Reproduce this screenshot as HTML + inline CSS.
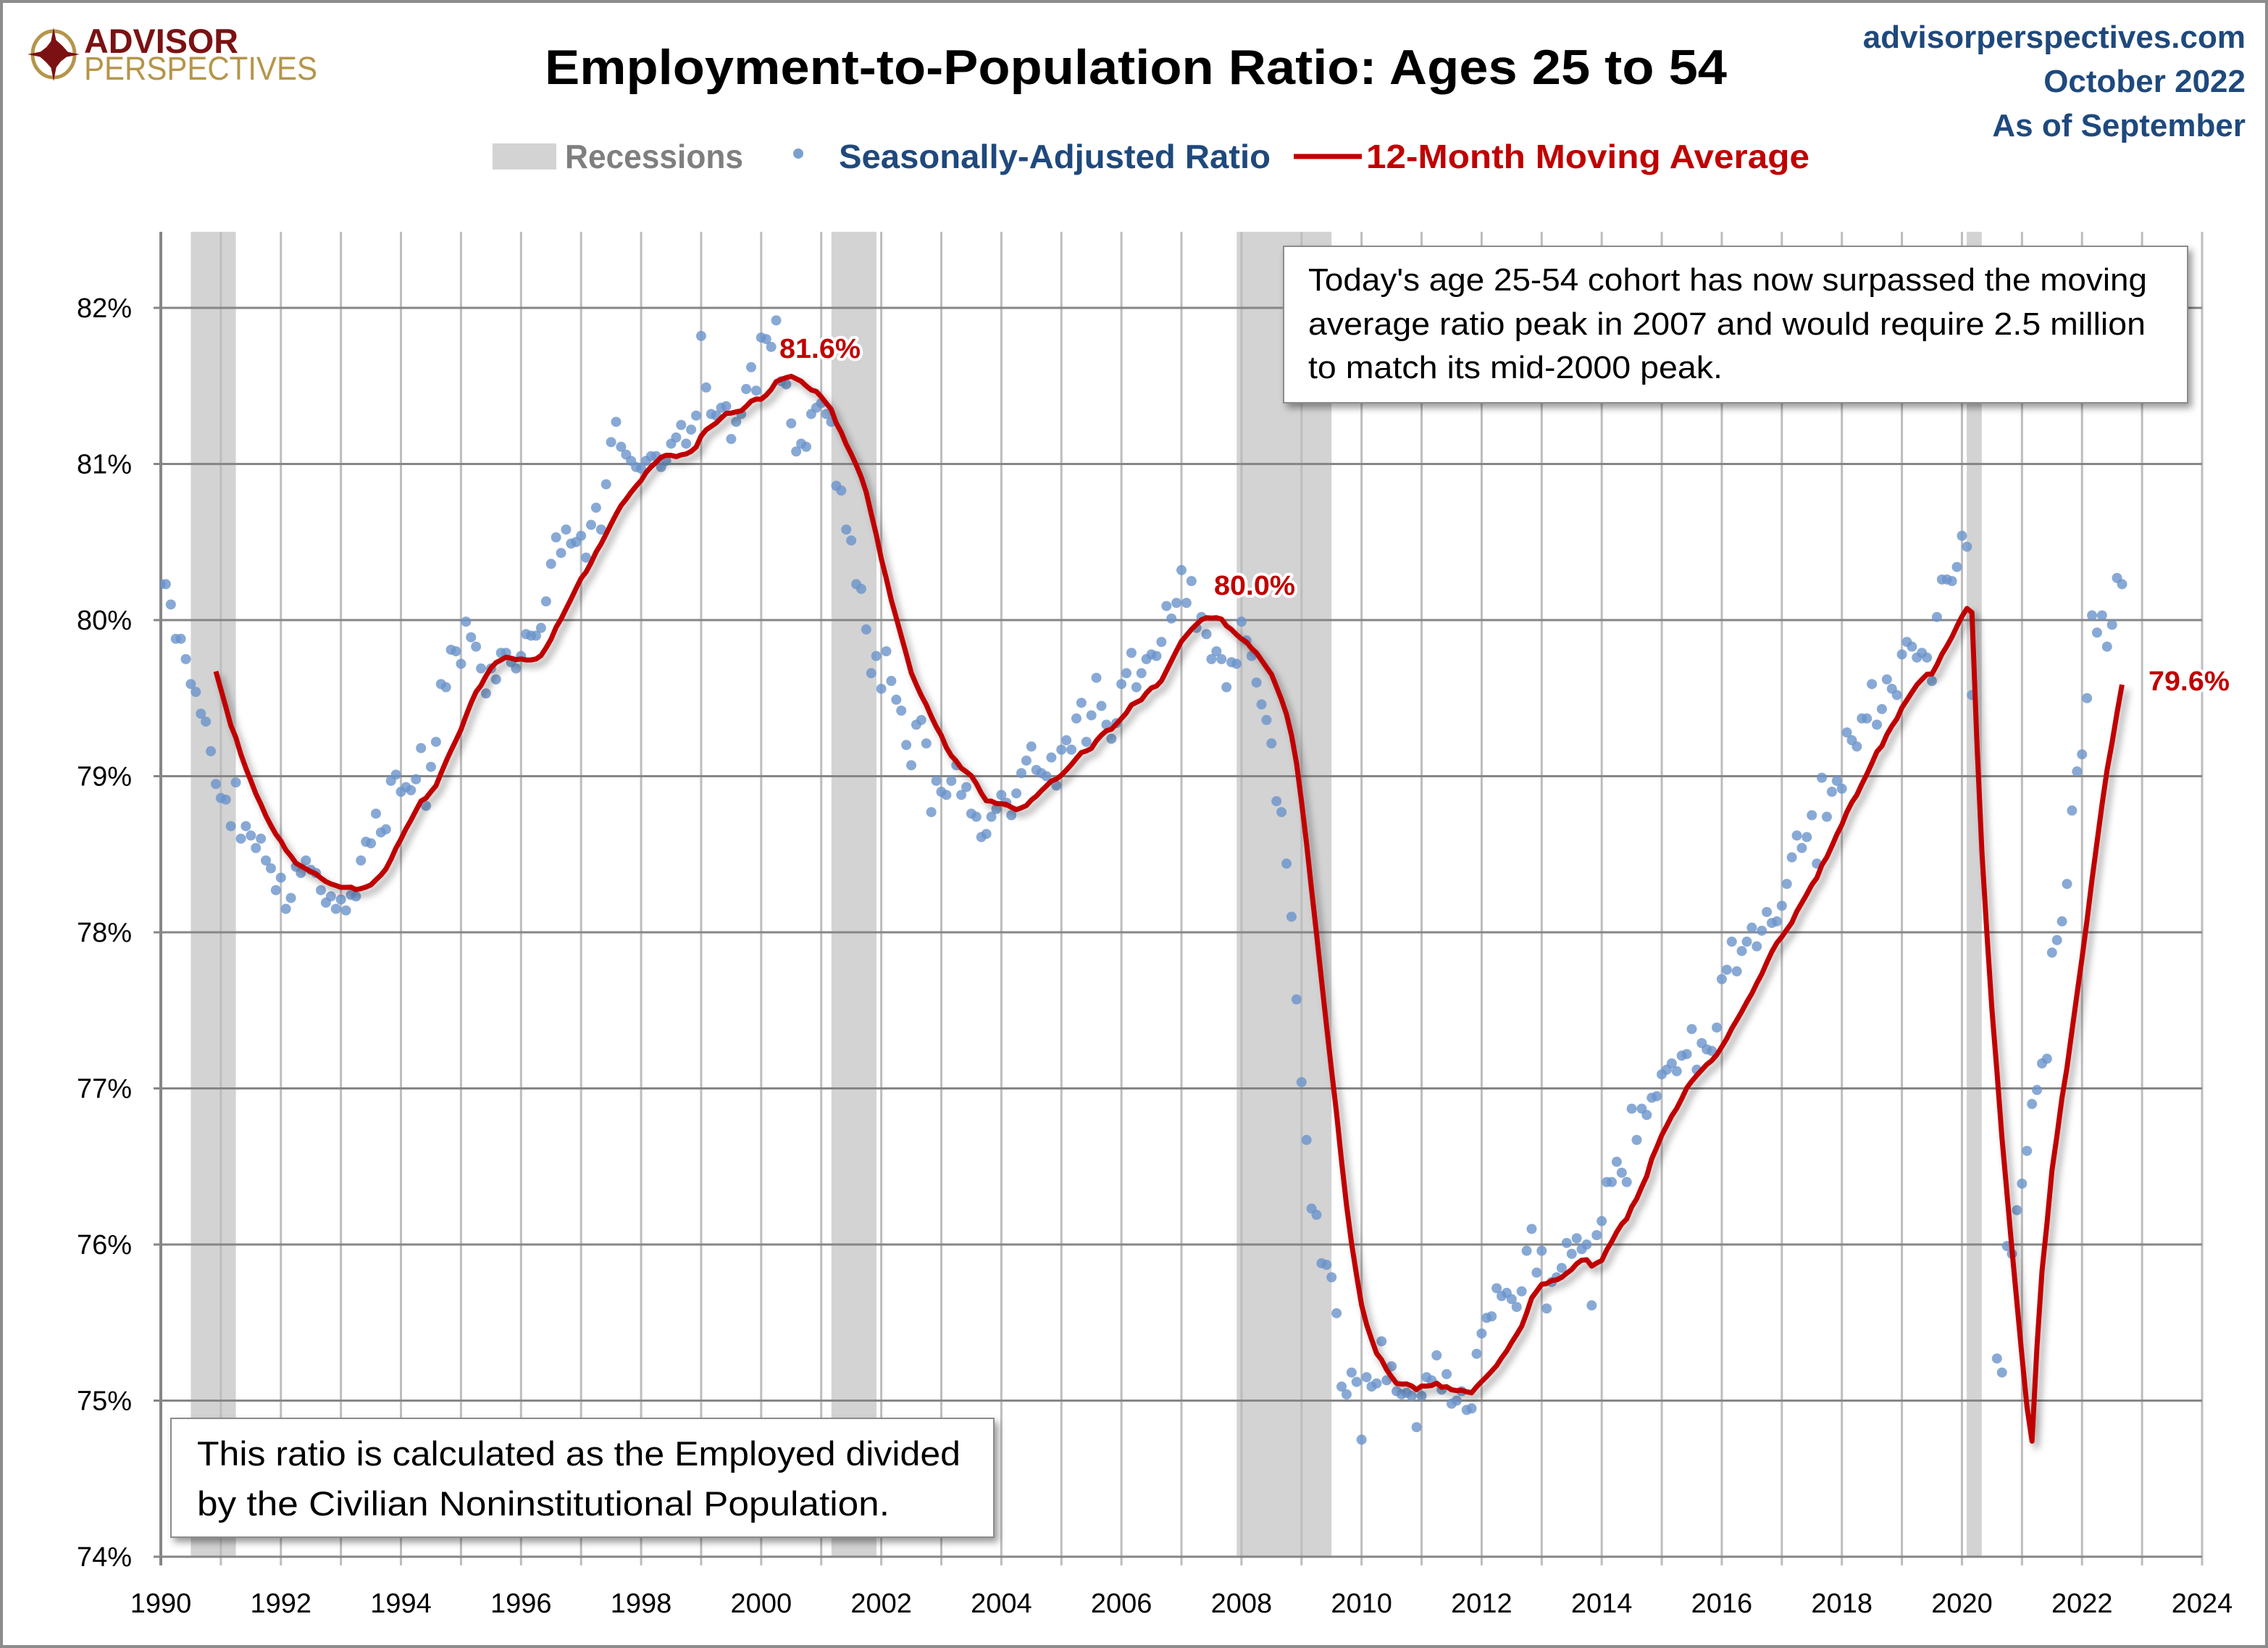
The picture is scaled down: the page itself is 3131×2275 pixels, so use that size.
<!DOCTYPE html>
<html><head><meta charset="utf-8"><title>Employment-to-Population Ratio: Ages 25 to 54</title>
<style>html,body{margin:0;padding:0;background:#fff}svg{display:block}text{font-family:"Liberation Sans",sans-serif}</style>
</head><body>
<svg id="chart" xmlns="http://www.w3.org/2000/svg" width="3131" height="2275" viewBox="0 0 3131 2275">
<defs>
<filter id="sh" x="-10%" y="-10%" width="130%" height="130%"><feDropShadow dx="6" dy="7" stdDeviation="5" flood-color="#000" flood-opacity="0.35"/></filter>
<filter id="bsh" x="-5%" y="-5%" width="110%" height="120%"><feDropShadow dx="5" dy="6" stdDeviation="5" flood-color="#000" flood-opacity="0.4"/></filter>
<clipPath id="plotclip"><rect x="222" y="320" width="2818" height="1829"/></clipPath>
</defs>
<rect x="0" y="0" width="3131" height="2275" fill="#fff"/>
<rect x="2" y="2" width="3127" height="2271" fill="none" stroke="#8c8c8c" stroke-width="4"/>

<g>
  <ellipse cx="74" cy="75" rx="29" ry="32" fill="none" stroke="#b5954a" stroke-width="5"/>
  <polygon points="74,38 80,69 110,75 80,81 74,112 68,81 38,75 68,69" fill="#7b1113"/>
  <polygon points="74,58 90,59 88,75 90,91 74,90 58,91 60,75 58,59" fill="#7b1113" transform="rotate(45 74 75)"/>
  <text x="116" y="73" font-size="47" font-weight="bold" fill="#7b1113" textLength="213" lengthAdjust="spacingAndGlyphs">ADVISOR</text>
  <text x="116" y="110" font-size="45" fill="#b5954a" textLength="322" lengthAdjust="spacingAndGlyphs">PERSPECTIVES</text>
</g>

<text x="752" y="116" font-size="68" font-weight="bold" fill="#000" textLength="1632" lengthAdjust="spacingAndGlyphs">Employment-to-Population Ratio: Ages 25 to 54</text>

<g font-weight="bold" fill="#1f497d" font-size="44" text-anchor="end">
  <text x="3100" y="66">advisorperspectives.com</text>
  <text x="3100" y="127">October 2022</text>
  <text x="3100" y="188">As of September</text>
</g>

<g font-weight="bold" font-size="46">
  <g><rect x="680" y="198" width="88" height="36" fill="#d3d3d3"/>
  <text x="780" y="232" fill="#7f7f7f" textLength="246" lengthAdjust="spacingAndGlyphs">Recessions</text></g>
  <g><circle cx="1102" cy="212" r="7" fill="#7aa0d0"/>
  <text x="1158" y="232" fill="#1f497d" textLength="596" lengthAdjust="spacingAndGlyphs">Seasonally-Adjusted Ratio</text></g>
  <g><line x1="1786" y1="216" x2="1880" y2="216" stroke="#c00000" stroke-width="7"/>
  <text x="1886" y="232" fill="#c00000" textLength="612" lengthAdjust="spacingAndGlyphs">12-Month Moving Average</text></g>
</g>

<g id="recessions"></g>
<g id="grid"></g>
<g id="yticks" font-size="38" fill="#000" text-anchor="end"></g>
<g id="xticks" font-size="38" fill="#000" text-anchor="middle"></g>
<g id="dots" clip-path="url(#plotclip)"></g>
<g clip-path="url(#plotclip)"><path id="ma" fill="none" stroke="#c00000" stroke-width="7" stroke-linejoin="round" filter="url(#sh)"/></g>

<g font-size="38" font-weight="bold" fill="#c00000" stroke="#fff" stroke-width="8" paint-order="stroke" stroke-linejoin="round">
  <text x="1076" y="494" textLength="112" lengthAdjust="spacingAndGlyphs">81.6%</text>
  <text x="1676" y="821" textLength="112" lengthAdjust="spacingAndGlyphs">80.0%</text>
  <text x="2966" y="953" textLength="112" lengthAdjust="spacingAndGlyphs">79.6%</text>
</g>

<g>
  <rect x="1772" y="340" width="1248" height="216" fill="#fff" stroke="#8c8c8c" stroke-width="2" filter="url(#bsh)"/>
  <g font-size="44" fill="#000">
    <text x="1806" y="401" textLength="1158" lengthAdjust="spacingAndGlyphs">Today's age 25-54 cohort has now surpassed the moving</text>
    <text x="1806" y="462" textLength="1156" lengthAdjust="spacingAndGlyphs">average ratio peak in 2007 and would require 2.5 million</text>
    <text x="1806" y="522" textLength="572" lengthAdjust="spacingAndGlyphs">to match its mid-2000 peak.</text>
  </g>
</g>
<g>
  <rect x="236" y="1958" width="1136" height="164" fill="#fff" stroke="#8c8c8c" stroke-width="2" filter="url(#bsh)"/>
  <g font-size="47" fill="#000">
    <text x="272" y="2023" textLength="1054" lengthAdjust="spacingAndGlyphs">This ratio is calculated as the Employed divided</text>
    <text x="272" y="2092" textLength="956" lengthAdjust="spacingAndGlyphs">by the Civilian Noninstitutional Population.</text>
  </g>
</g>

<script>
const startYear = 1990;
const yTickValues = [74,75,76,77,78,79,80,81,82];
const xTickYears = [1990,1992,1994,1996,1998,2000,2002,2004,2006,2008,2010,2012,2014,2016,2018,2020,2022,2024];
const recessionStarts = [1990.5, 2001.17, 2007.92, 2020.08];
const recessionEnds = [1991.25, 2001.92, 2009.5, 2020.33];
const ratio1990s = [
80.23,80.23,80.10,79.88,79.88,79.75,79.59,79.54,79.40,79.35,79.16,78.95,
78.86,78.85,78.68,78.96,78.60,78.68,78.62,78.54,78.60,78.46,78.41,78.27,
78.35,78.15,78.22,78.42,78.38,78.46,78.40,78.38,78.27,78.19,78.23,78.15,
78.21,78.14,78.24,78.23,78.46,78.58,78.57,78.76,78.64,78.66,78.97,79.01,
78.90,78.93,78.91,78.98,79.18,78.81,79.06,79.22,79.59,79.57,79.81,79.80,
79.72,79.99,79.89,79.83,79.69,79.53,79.69,79.62,79.79,79.79,79.73,79.69,
79.77,79.91,79.90,79.90,79.95,80.12,80.36,80.53,80.43,80.58,80.49,80.50,
80.54,80.40,80.61,80.72,80.58,80.87,81.14,81.27,81.11,81.06,81.02,80.98,
80.97,81.02,81.05,81.05,80.98,81.02,81.13,81.17,81.25,81.13,81.22,81.31,
81.82,81.49,81.32,81.31,81.36,81.37,81.16,81.27,81.32,81.48,81.62,81.47];
const ratio2000s = [
81.81,81.80,81.75,81.92,81.53,81.51,81.26,81.08,81.13,81.11,81.32,81.36,
81.39,81.32,81.27,80.86,80.83,80.58,80.51,80.23,80.20,79.94,79.66,79.77,
79.56,79.80,79.61,79.49,79.42,79.20,79.07,79.33,79.36,79.21,78.77,78.97,
78.90,78.88,78.97,79.07,78.88,78.93,78.76,78.74,78.61,78.63,78.74,78.79,
78.88,78.83,78.75,78.89,79.02,79.10,79.19,79.04,79.02,79.00,79.12,78.94,
79.17,79.23,79.17,79.37,79.47,79.22,79.39,79.63,79.45,79.33,79.24,79.34,
79.59,79.66,79.79,79.57,79.66,79.75,79.78,79.77,79.86,80.09,80.01,80.11,
80.32,80.11,80.25,79.95,80.02,79.91,79.75,79.80,79.75,79.57,79.73,79.72,
79.99,79.87,79.77,79.60,79.46,79.36,79.21,78.84,78.77,78.44,78.10,77.57,
77.04,76.67,76.23,76.19,75.88,75.87,75.79,75.56,75.09,75.04,75.18,75.12];
const ratio2010s = [
74.75,75.15,75.09,75.11,75.38,75.13,75.22,75.06,75.04,75.05,75.03,74.83,
75.03,75.15,75.13,75.29,75.07,75.17,74.98,75.00,75.06,74.94,74.95,75.30,
75.43,75.53,75.54,75.72,75.67,75.69,75.65,75.60,75.70,75.96,76.10,75.82,
75.96,75.59,75.76,75.79,75.85,76.01,75.94,76.04,75.97,76.00,75.61,76.06,
76.15,76.40,76.40,76.53,76.46,76.40,76.87,76.67,76.87,76.83,76.94,76.95,
77.09,77.12,77.16,77.11,77.21,77.22,77.38,77.12,77.29,77.25,77.24,77.39,
77.70,77.76,77.94,77.75,77.88,77.94,78.03,77.91,78.01,78.13,78.06,78.07,
78.17,78.31,78.48,78.62,78.54,78.61,78.75,78.44,78.99,78.74,78.90,78.97,
78.92,79.28,79.23,79.19,79.37,79.37,79.59,79.33,79.43,79.62,79.56,79.52,
79.78,79.86,79.83,79.76,79.79,79.76,79.61,80.02,80.26,80.26,80.25,80.34];
const ratio2020s = [
80.54,80.47,79.52,69.7,71.4,73.5,73.8,75.27,75.18,75.99,75.94,76.22,
76.39,76.60,76.90,76.99,77.16,77.19,77.87,77.95,78.07,78.31,78.78,79.03,
79.14,79.50,80.03,79.92,80.03,79.83,79.97,80.27,80.23];
const maWindow = 12;

const NS = "http://www.w3.org/2000/svg";
const X0 = 222, X1 = 3040, Y74 = 2149, PX_PER_PCT = 215.5, PLOT_TOP = 320;
function xScale(year){ return X0 + (year - 1990) * (X1 - X0) / 34; }
function yScale(v){ return Y74 - (v - 74) * PX_PER_PCT; }
function mk(tag, attrs, parent){ const e = document.createElementNS(NS, tag); for (const k in attrs) e.setAttribute(k, attrs[k]); parent.appendChild(e); return e; }

const ratio = ratio1990s.concat(ratio2000s, ratio2010s, ratio2020s);

const rec = document.getElementById('recessions');
for (let i = 0; i < recessionStarts.length; i++) {
  const r = mk('rect', {x: xScale(recessionStarts[i]), y: PLOT_TOP, width: xScale(recessionEnds[i]) - xScale(recessionStarts[i]), height: Y74 - PLOT_TOP, fill: '#d3d3d3'}, rec);
  
  
}

const grid = document.getElementById('grid');
for (let yr = 1991; yr <= 2024; yr++) {
  const l = mk('line', {x1: xScale(yr), x2: xScale(yr), y1: PLOT_TOP, y2: Y74 + 12, stroke: '#bdbdbd', 'stroke-width': 3}, grid);
  
  
}
const yt = document.getElementById('yticks');
yTickValues.forEach(v => {
  const l = mk('line', {x1: X0 - 10, x2: X1, y1: yScale(v), y2: yScale(v), stroke: '#868686', 'stroke-width': 3}, grid);
  
  
  const t = mk('text', {x: 182, y: yScale(v) + 13}, yt);
  t.textContent = v + '%';
  
  
});
const axisL = mk('line', {x1: X0, x2: X0, y1: PLOT_TOP, y2: Y74 + 12, stroke: '#868686', 'stroke-width': 4}, grid);


const xt = document.getElementById('xticks');
xTickYears.forEach(yr => {
  const t = mk('text', {x: xScale(yr), y: 2226}, xt);
  t.textContent = String(yr);
  
  
});

const dots = document.getElementById('dots');
ratio.forEach((v, i) => {
  if (v < 74) return;
  const c = mk('circle', {cx: xScale(startYear + i / 12), cy: yScale(v), r: 7, fill: '#6a93cb', 'fill-opacity': 0.8}, dots);
  
  
});

let d = '';
for (let i = maWindow - 1; i < ratio.length; i++) {
  let s = 0;
  for (let j = i - maWindow + 1; j <= i; j++) s += ratio[j];
  const m = s / maWindow;
  d += (d ? 'L' : 'M') + xScale(startYear + i / 12).toFixed(1) + ',' + yScale(m).toFixed(1);
}
document.getElementById('ma').setAttribute('d', d);
</script>
</svg>
</body></html>
